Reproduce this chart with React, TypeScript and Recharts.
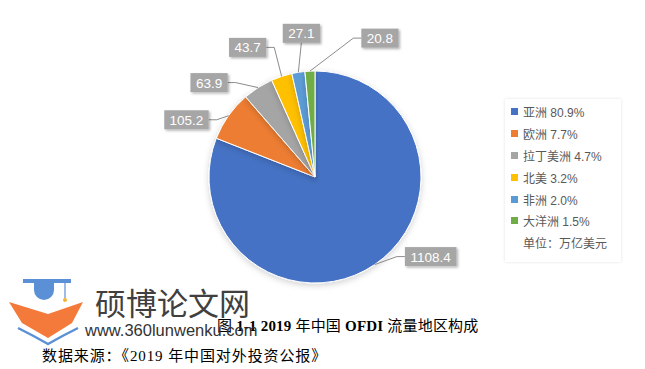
import React from 'react';
import { PieChart, Pie, Cell, Legend } from 'recharts';

const regions = ['亚洲', '欧洲', '拉丁美洲', '北美', '非洲', '大洋洲'];
const flows = [1108.4, 105.2, 63.9, 43.7, 27.1, 20.8];
const shares = ['80.9%', '7.7%', '4.7%', '3.2%', '2.0%', '1.5%'];
const unitNote = '单位：万亿美元';

const colors = ['#4472C4', '#ED7D31', '#A5A5A5', '#FFC000', '#5B9BD5', '#70AD47'];
// where each value box sits, relative to the slice edge (Excel labels were dragged by hand)
const labelShift = [
  { dx: 56, dy: -8 },
  { dx: -42, dy: 4 },
  { dx: -49, dy: -5 },
  { dx: -34, dy: -29 },
  { dx: 3, dy: -39 },
  { dx: 70, dy: -33 },
];

const data = regions.map((name, i) => ({ name, value: flows[i], share: shares[i] }));

const RAD = Math.PI / 180;

const renderLabel = (props: any) => {
  const { cx, cy, midAngle, outerRadius, index, value } = props;
  const ex = cx + outerRadius * Math.cos(-midAngle * RAD);
  const ey = cy + outerRadius * Math.sin(-midAngle * RAD);
  const { dx, dy } = labelShift[index];
  const bx = ex + dx;
  const by = ey + dy;
  const text = String(value);
  const w = text.replace('.', '').length * 7.2 + 3.6 + 12;
  const h = 19;
  let pts: number[][];
  if (Math.abs(dx) >= Math.abs(dy)) {
    const side = dx > 0 ? bx - w / 2 : bx + w / 2;
    const elbow = dx > 0 ? side - 8 : side + 8;
    pts = [[ex, ey], [elbow, by], [side, by]];
  } else {
    const side = dy > 0 ? by - h / 2 : by + h / 2;
    pts = [[ex, ey], [bx, side]];
  }
  return (
    <g>
      <polyline points={pts.map((p) => p.join(',')).join(' ')} fill="none" stroke="#8c8c8c" strokeWidth={1} />
      <rect x={bx - w / 2} y={by - h / 2} width={w} height={h} fill="#A6A6A6" filter="url(#boxShadow)" />
      <text x={bx} y={by + 5} textAnchor="middle" fill="#fff" fontSize={13.5} fontFamily="Liberation Sans, Arial, sans-serif">
        {text}
      </text>
    </g>
  );
};

const LegendBox = () => (
  <div
    style={{
      width: 116,
      height: 163,
      boxSizing: 'border-box',
      padding: '2px 0 0 6px',
      background: '#fff',
      boxShadow: '0 0 3px rgba(0,0,0,0.12)',
      fontFamily: 'Liberation Sans, "Noto Sans CJK SC", sans-serif',
      fontSize: 12,
      color: '#595959',
    }}
  >
    {data.map((d, i) => (
      <div key={d.name} style={{ display: 'flex', alignItems: 'center', height: 21.8 }}>
        <span style={{ width: 7, height: 7, background: colors[i], marginRight: 5 }} />
        <span>
          {d.name} {d.share}
        </span>
      </div>
    ))}
    <div style={{ display: 'flex', alignItems: 'center', height: 21.8, paddingLeft: 12 }}>{unitNote}</div>
  </div>
);

const captionFont = '"Liberation Serif", "Noto Sans CJK SC", serif';

export default function App() {
  return (
    <div style={{ position: 'fixed', left: 0, top: 0, width: 645, height: 369, background: '#fff', overflow: 'hidden' }}>
      <PieChart width={645} height={369}>
        <defs>
          <filter id="boxShadow" x="-20%" y="-20%" width="150%" height="160%">
            <feDropShadow dx="1.5" dy="1.5" stdDeviation="1.2" floodColor="#000" floodOpacity="0.3" />
          </filter>
          <filter id="pieShadow" x="-20%" y="-20%" width="140%" height="140%">
            <feDropShadow dx="0" dy="2" stdDeviation="3" floodColor="#000" floodOpacity="0.18" />
          </filter>
        </defs>
        <Pie
          data={data}
          dataKey="value"
          nameKey="name"
          cx={310}
          cy={172}
          outerRadius={106}
          startAngle={90}
          endAngle={-270}
          stroke="#fff"
          strokeWidth={1}
          label={renderLabel}
          labelLine={false}
          isAnimationActive={false}
          style={{ filter: 'url(#pieShadow)' }}
        >
          {data.map((d, i) => (
            <Cell key={d.name} fill={colors[i]} />
          ))}
        </Pie>
        <Legend
          layout="vertical"
          content={() => <LegendBox />}
          wrapperStyle={{ position: 'absolute', left: 505, top: 99, width: 116 }}
        />
      </PieChart>

      <div
        style={{
          position: 'absolute',
          left: 217,
          top: 314,
          fontFamily: captionFont,
          fontSize: 15,
          letterSpacing: 0.2,
          color: '#000',
          whiteSpace: 'nowrap',
        }}
      >
        图 <b>1-1 2019</b> 年中国 <b>OFDI</b> 流量地区构成
      </div>
      <div
        style={{
          position: 'absolute',
          left: 42,
          top: 344,
          fontFamily: captionFont,
          fontSize: 15,
          letterSpacing: 0.9,
          color: '#000',
          whiteSpace: 'nowrap',
        }}
      >
        数据来源：《2019 年中国对外投资公报》
      </div>

      <svg width={260} height={90} style={{ position: 'absolute', left: 0, top: 272 }}>
        <g transform="translate(0,-272)">
          <rect x={23} y={279} width={48} height={4} fill="#5B8FD6" />
          <path d="M34 283 L54 283 L54 290 A10 10 0 0 1 34 290 Z" fill="#5B8FD6" />
          <line x1={65} y1={283} x2={65} y2={298} stroke="#5B8FD6" strokeWidth={1.2} />
          <circle cx={65} cy={300} r={2} fill="#F5B335" />
          <polygon points="9,302 48,314 83,302 72,323 48,338 22,323" fill="#F47A3B" />
          <path d="M18 328 Q34 336 48 344 Q62 336 78 328" fill="none" stroke="#5B8FD6" strokeWidth={2.5} />
        </g>
        <text x={95} y={43} fontSize={31} fill="#404040" fontFamily='"Noto Sans CJK SC", sans-serif'>
          硕博论文网
        </text>
        <text x={85} y={64} fontSize={16.5} fill="#333" fontFamily='"Liberation Sans", Arial, sans-serif'>
          www.360lunwenku.com
        </text>
      </svg>
    </div>
  );
}
